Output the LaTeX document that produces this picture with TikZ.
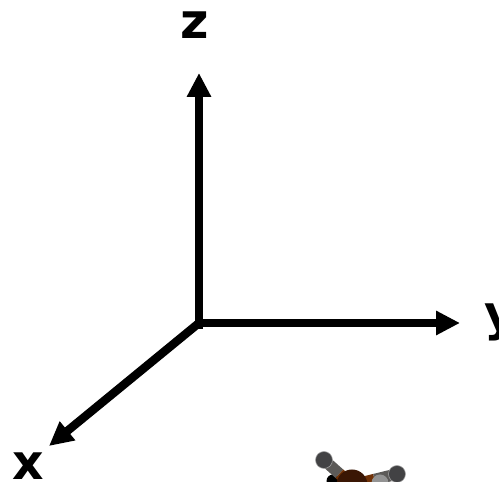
\documentclass[tikz,border=0pt]{standalone}
\usepackage{fontspec}
\setmainfont{DejaVu Sans}
\usepackage{xcolor}
\usetikzlibrary{arrows.meta, calc}
\definecolor{atomDark}{RGB}{66,66,68}
\definecolor{atomBrown}{RGB}{58,22,4}
\definecolor{bondBrown}{RGB}{112,50,8}
\definecolor{bondGray}{RGB}{92,90,88}
\tikzstyle{axis} = [-{Triangle[length=4.8mm, width=4.6mm]}, line width=4.8pt, black]

\begin{document}
\begin{tikzpicture}[
  axislabel/.style={inner sep=0pt, anchor=base, font=\fontsize{27.8}{30}\selectfont\bfseries},
  atom/.style={circle, inner sep=0pt, minimum size=3.4mm, fill=atomDark, draw=gray!70, line width=0.3pt},
  bond/.style={line width=6.5pt}
]
\clip (0,0) rectangle (9.98,9.64);

% Axes
\coordinate (origin) at (3.98,3.18);
\coordinate (zstart) at (3.98,3.06);
\coordinate (ztip) at (3.98,8.18);
\coordinate (ytip) at (9.2,3.18);
\coordinate (xtip) at (0.98,0.72);
\draw[axis] (zstart) -- (ztip);
\draw[axis] (origin) -- (ytip);
\draw[axis] (origin) -- (xtip);

% Labels
\node[axislabel] (zlabel) at (3.9,8.86) {z};
\node[axislabel] (ylabel) at (10.0,3.02) {y};
\node[axislabel] (xlabel) at (0.56,0.04) {x};

% Molecule
\coordinate (posA) at (6.48,0.44);
\coordinate (posB) at (7.94,0.16);
\coordinate (posC) at (7.04,-0.06);
\node[circle, inner sep=0pt, minimum size=2.6mm, fill=black] (atomE) at (6.66,0.02) {};
\draw[bond, bondGray] (posA) -- ($(posA)!0.55!(posC)$);
\draw[bond, bondBrown] ($(posA)!0.55!(posC)$) -- (posC);
\draw[bond, bondBrown] (posC) -- ($(posC)!0.5!(posB)$);
\draw[bond, bondGray] ($(posC)!0.5!(posB)$) -- (posB);
\node[atom] (atomA) at (posA) {};
\node[atom] (atomB) at (posB) {};
\node[circle, inner sep=0pt, minimum size=6.2mm, fill=atomBrown] (atomC) at (posC) {};
\node[atom, fill=gray!85, draw=none] (atomD) at (7.6,-0.02) {};

\end{tikzpicture}
\end{document}
